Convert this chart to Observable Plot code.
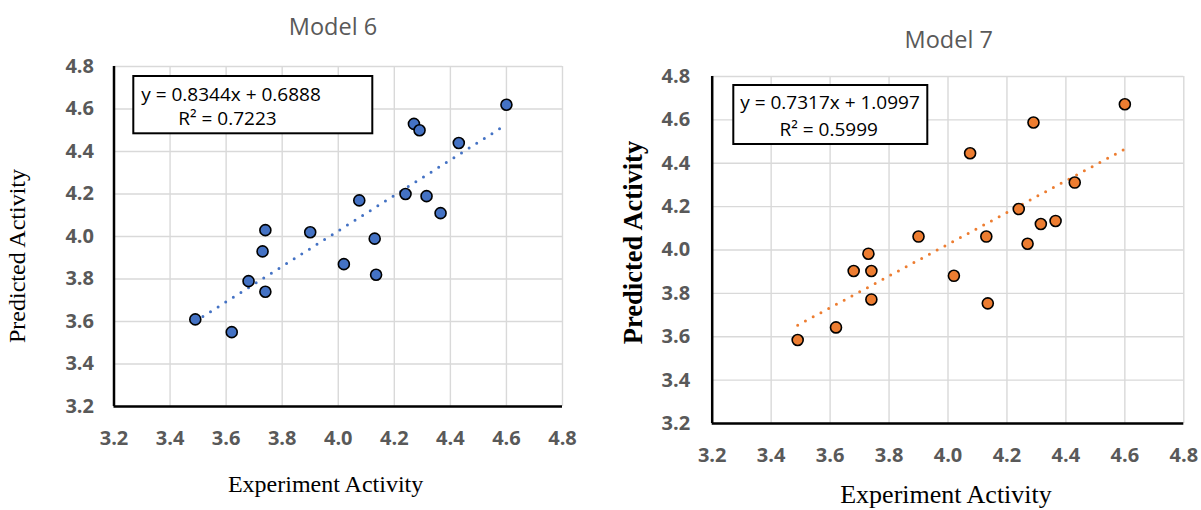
<!DOCTYPE html>
<html>
<head>
<meta charset="utf-8">
<script src="https://cdn.jsdelivr.net/npm/d3@7"></script>
<script src="https://cdn.jsdelivr.net/npm/@observablehq/plot@0.6"></script>
<style>
  html, body { margin: 0; padding: 0; background: #fff; }
  #wrap { position: relative; width: 1201px; height: 510px; overflow: hidden; background: #fff; }
  #wrap > svg { position: absolute; top: 0; }
</style>
</head>
<body>
<div id="wrap"></div>
<script>
// ---- Data ----
const experiment = [3.49, 3.62, 3.68, 3.73, 3.74, 3.74, 3.90, 4.02, 4.075, 4.13, 4.135, 4.24, 4.27, 4.29, 4.315, 4.365, 4.43, 4.60];
const predictedModel6 = [3.61, 3.55, 3.79, 3.93, 4.03, 3.74, 4.02, 3.87, 4.17, 3.99, 3.82, 4.20, 4.53, 4.50, 4.19, 4.11, 4.44, 4.62];
const predictedModel7 = [3.585, 3.643, 3.903, 3.983, 3.903, 3.772, 4.062, 3.881, 4.446, 4.062, 3.754, 4.189, 4.029, 4.588, 4.120, 4.134, 4.311, 4.672];
const modelNames = ["Model 6", "Model 7"];
const slopes = [0.8344, 0.7317];
const intercepts = [0.6888, 1.0997];
const rSquared = ["0.7223", "0.5999"];
const tickValues = [3.2, 3.4, 3.6, 3.8, 4.0, 4.2, 4.4, 4.6, 4.8];
const xTitle = "Experiment Activity";
const yTitle = "Predicted Activity";
const colors = ["#4472C4", "#ED7D31"];

const wrap = document.getElementById("wrap");

function makeChart(cfg) {
  const data = experiment.map((x, i) => ({x, y: cfg.ys[i]}));
  const x0 = d3.min(experiment), x1 = d3.max(experiment);
  const trend = [
    {x: x0, y: cfg.slope * x0 + cfg.intercept},
    {x: x1, y: cfg.slope * x1 + cfg.intercept}
  ];
  const svg = Plot.plot({
    width: cfg.width,
    height: 510,
    marginLeft: cfg.mL,
    marginRight: cfg.mR,
    marginTop: cfg.mT,
    marginBottom: cfg.mB,
    style: {
      background: "transparent",
      fontFamily: "'Open Sans', sans-serif",
      fontSize: "20px",
      fontWeight: "bold",
      color: "#595959",
      overflow: "visible"
    },
    x: {domain: [3.2, 4.8], label: null},
    y: {domain: [3.2, 4.8], label: null},
    marks: [
      Plot.gridX(tickValues, {stroke: "#d9d9d9", strokeOpacity: 1, strokeWidth: 1.4}),
      Plot.gridY(tickValues, {stroke: "#d9d9d9", strokeOpacity: 1, strokeWidth: 1.4}),
      Plot.axisX(tickValues, {tickSize: 0, tickPadding: cfg.padX, tickFormat: d => d.toFixed(1), label: null}),
      Plot.axisY(tickValues, {tickSize: 0, tickPadding: cfg.padY, tickFormat: d => d.toFixed(1), label: null}),
      Plot.ruleX([3.2], {stroke: "black", strokeWidth: 2.5}),
      Plot.ruleY([3.2], {stroke: "black", strokeWidth: 2.5}),
      Plot.line(trend, {x: "x", y: "y", stroke: cfg.color, strokeWidth: 3, strokeDasharray: cfg.dash, strokeLinecap: "round"}),
      Plot.dot(data, {x: "x", y: "y", r: 5.5, fill: cfg.color, stroke: "black", strokeWidth: 1.6})
    ]
  });
  svg.style.left = cfg.left + "px";
  wrap.appendChild(svg);
}

makeChart({ys: predictedModel6, color: colors[0], slope: slopes[0], intercept: intercepts[0],
  left: 0, width: 600, mL: 113.5, mR: 38, mT: 66, mB: 104, padX: 24, padY: 20, dash: "0,9"});
makeChart({ys: predictedModel7, color: colors[1], slope: slopes[1], intercept: intercepts[1],
  left: 600, width: 601, mL: 111.7, mR: 17.7, mT: 76, mB: 87, padX: 24, padY: 22, dash: "0,8.8"});

// ---- Annotation overlay: titles, axis titles, equation boxes ----
const ov = d3.select(wrap).append("svg")
  .attr("width", 1201).attr("height", 510)
  .style("left", "0px").style("pointer-events", "none");

const sans = "'Open Sans', sans-serif";
const serif = "'Liberation Serif', 'Times New Roman', serif";

// chart titles
[[333, 35], [948.7, 48]].forEach(([x, y], i) => {
  ov.append("text").attr("x", x).attr("y", y).attr("text-anchor", "middle")
    .attr("font-family", sans).attr("font-size", 23.5).attr("fill", "#595959")
    .text(modelNames[i]);
});

// axis titles
ov.append("text").attr("x", 325.6).attr("y", 492).attr("text-anchor", "middle")
  .attr("font-family", serif).attr("font-size", 24).attr("fill", "#000").text(xTitle);
ov.append("text").attr("transform", "translate(25,256) rotate(-90)").attr("text-anchor", "middle")
  .attr("font-family", serif).attr("font-size", 24).attr("fill", "#000").text(yTitle);
ov.append("text").attr("x", 946).attr("y", 502.5).attr("text-anchor", "middle")
  .attr("font-family", serif).attr("font-size", 26).attr("fill", "#000").text(xTitle);
ov.append("text").attr("transform", "translate(642,242.5) rotate(-90)").attr("text-anchor", "middle")
  .attr("font-family", serif).attr("font-size", 26.5).attr("font-weight", "bold").attr("fill", "#000").text(yTitle);

// equation boxes
const boxes = [
  {x: 133.3, y: 76, w: 239, h: 57.3, cx1: 231, b1: 100.5, cx2: 227.5, b2: 125},
  {x: 733.3, y: 85, w: 194, h: 59, cx1: 830, b1: 109.3, cx2: 828.7, b2: 135.5}
];
boxes.forEach((b, i) => {
  ov.append("rect").attr("x", b.x).attr("y", b.y).attr("width", b.w).attr("height", b.h)
    .attr("fill", "#fff").attr("stroke", "#000").attr("stroke-width", 2);
  ov.append("text").attr("x", b.cx1).attr("y", b.b1).attr("text-anchor", "middle")
    .attr("font-family", sans).attr("font-size", 19).attr("fill", "#000")
    .text(`y = ${slopes[i].toFixed(4)}x + ${intercepts[i].toFixed(4)}`);
  ov.append("text").attr("x", b.cx2).attr("y", b.b2).attr("text-anchor", "middle")
    .attr("font-family", sans).attr("font-size", 19).attr("fill", "#000")
    .text(`R² = ${rSquared[i]}`);
});
</script>
</body>
</html>
